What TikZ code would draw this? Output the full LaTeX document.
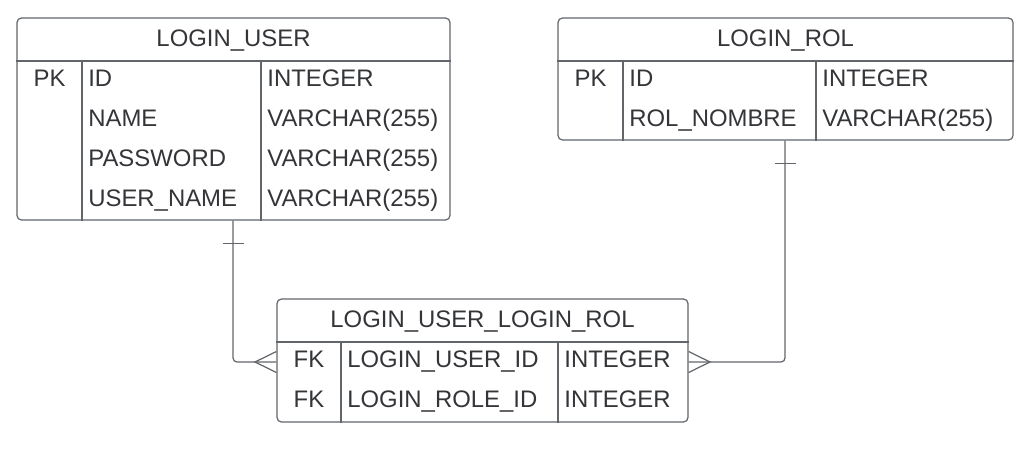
\documentclass[tikz,border=0pt]{standalone}
\usepackage{fontspec}
\setmainfont{Liberation Sans}
\usetikzlibrary{positioning, calc}

\definecolor{lineGrey}{HTML}{62666B}
\definecolor{textGrey}{HTML}{333538}

\begin{document}
\begin{tikzpicture}[
        font=\fontsize{13.6}{16}\selectfont,
        table/.style={rectangle, draw=lineGrey, line width=0.7pt, rounded corners=0.09cm, fill=white},
        sep/.style={draw=lineGrey, line width=0.7pt},
        title/.style={text=textGrey, inner sep=0pt, text height=0.34cm, text depth=0pt},
        cell/.style={text=textGrey, anchor=west, inner sep=0pt, text height=0.34cm, text depth=0pt},
        key/.style={text=textGrey, inner sep=0pt, text height=0.34cm, text depth=0pt},
        rel/.style={draw=lineGrey, line width=0.7pt, rounded corners=0.08cm}
      ]
        \useasboundingbox (0,0) rectangle (20.68,-9.5);

        % Tables
        \node[table, minimum width=8.66cm, minimum height=4.04cm] (loginuser) at (4.67,-2.38) {};
        \node[table, minimum width=9.10cm, minimum height=2.44cm] (loginrol) at (15.71,-1.58) {};
        \node[table, minimum width=8.22cm, minimum height=2.46cm] (link) at (9.65,-7.21) {};

        % LOGIN_USER
        \node[title] (usertitle) at (4.67,-0.76) {LOGIN\_USER};
        \draw[sep] (loginuser.west |- 0,-1.22) -- (loginuser.east |- 0,-1.22);
        \draw[sep] (1.64,-1.22) -- (1.64,0 |- loginuser.south);
        \draw[sep] (5.22,-1.22) -- (5.22,0 |- loginuser.south);
        \node[key] (userpk) at (0.99,-1.56) {PK};
        \node[cell] (userid) at (1.76,-1.56) {ID};
        \node[cell] (username) at (1.76,-2.36) {NAME};
        \node[cell] (userpass) at (1.76,-3.16) {PASSWORD};
        \node[cell] (useruname) at (1.76,-3.96) {USER\_NAME};
        \foreach \y in {-1.56} \node[cell] at (5.34,\y) {INTEGER};
        \foreach \y in {-2.36,-3.16,-3.96} \node[cell] at (5.34,\y) {VARCHAR(255)};

        % LOGIN_ROL
        \node[title] (roltitle) at (15.71,-0.76) {LOGIN\_ROL};
        \draw[sep] (loginrol.west |- 0,-1.22) -- (loginrol.east |- 0,-1.22);
        \draw[sep] (12.46,-1.22) -- (12.46,0 |- loginrol.south);
        \draw[sep] (16.32,-1.22) -- (16.32,0 |- loginrol.south);
        \node[key] (rolpk) at (11.81,-1.56) {PK};
        \node[cell] (rolid) at (12.58,-1.56) {ID};
        \node[cell] (rolname) at (12.58,-2.36) {ROL\_NOMBRE};
        \node[cell] at (16.44,-1.56) {INTEGER};
        \node[cell] at (16.44,-2.36) {VARCHAR(255)};

        % LOGIN_USER_LOGIN_ROL
        \node[title] (linktitle) at (9.65,-6.38) {LOGIN\_USER\_LOGIN\_ROL};
        \draw[sep] (link.west |- 0,-6.84) -- (link.east |- 0,-6.84);
        \draw[sep] (6.82,-6.84) -- (6.82,0 |- link.south);
        \draw[sep] (11.16,-6.84) -- (11.16,0 |- link.south);
        \node[key] (fkuser) at (6.18,-7.18) {FK};
        \node[key] (fkrol) at (6.18,-7.98) {FK};
        \node[cell] (linkuserid) at (6.94,-7.18) {LOGIN\_USER\_ID};
        \node[cell] (linkroleid) at (6.94,-7.98) {LOGIN\_ROLE\_ID};
        \node[cell] at (11.28,-7.18) {INTEGER};
        \node[cell] at (11.28,-7.98) {INTEGER};

        % Relations
        \coordinate (userend) at (4.66,-7.24);
        \coordinate (rolend) at (15.70,-7.24);
        \coordinate (footl) at (5.10,-7.24);
        \coordinate (footr) at (14.20,-7.24);
        \draw[rel] (loginuser.south -| userend) -- (userend) -- (link.west |- userend);
        \draw[rel] (loginrol.south -| rolend) -- (rolend) -- (link.east |- rolend);

        % one ticks
        \draw[sep] ($(loginuser.south -| userend)+(-0.21,-0.46)$) -- ++(0.42,0);
        \draw[sep] ($(loginrol.south -| rolend)+(-0.21,-0.46)$) -- ++(0.42,0);

        % many feet
        \draw[sep] (link.west |- 0,-7.03) -- (footl) -- (link.west |- 0,-7.45);
        \draw[sep] (link.east |- 0,-7.03) -- (footr) -- (link.east |- 0,-7.45);

      \end{tikzpicture}
\end{document}
